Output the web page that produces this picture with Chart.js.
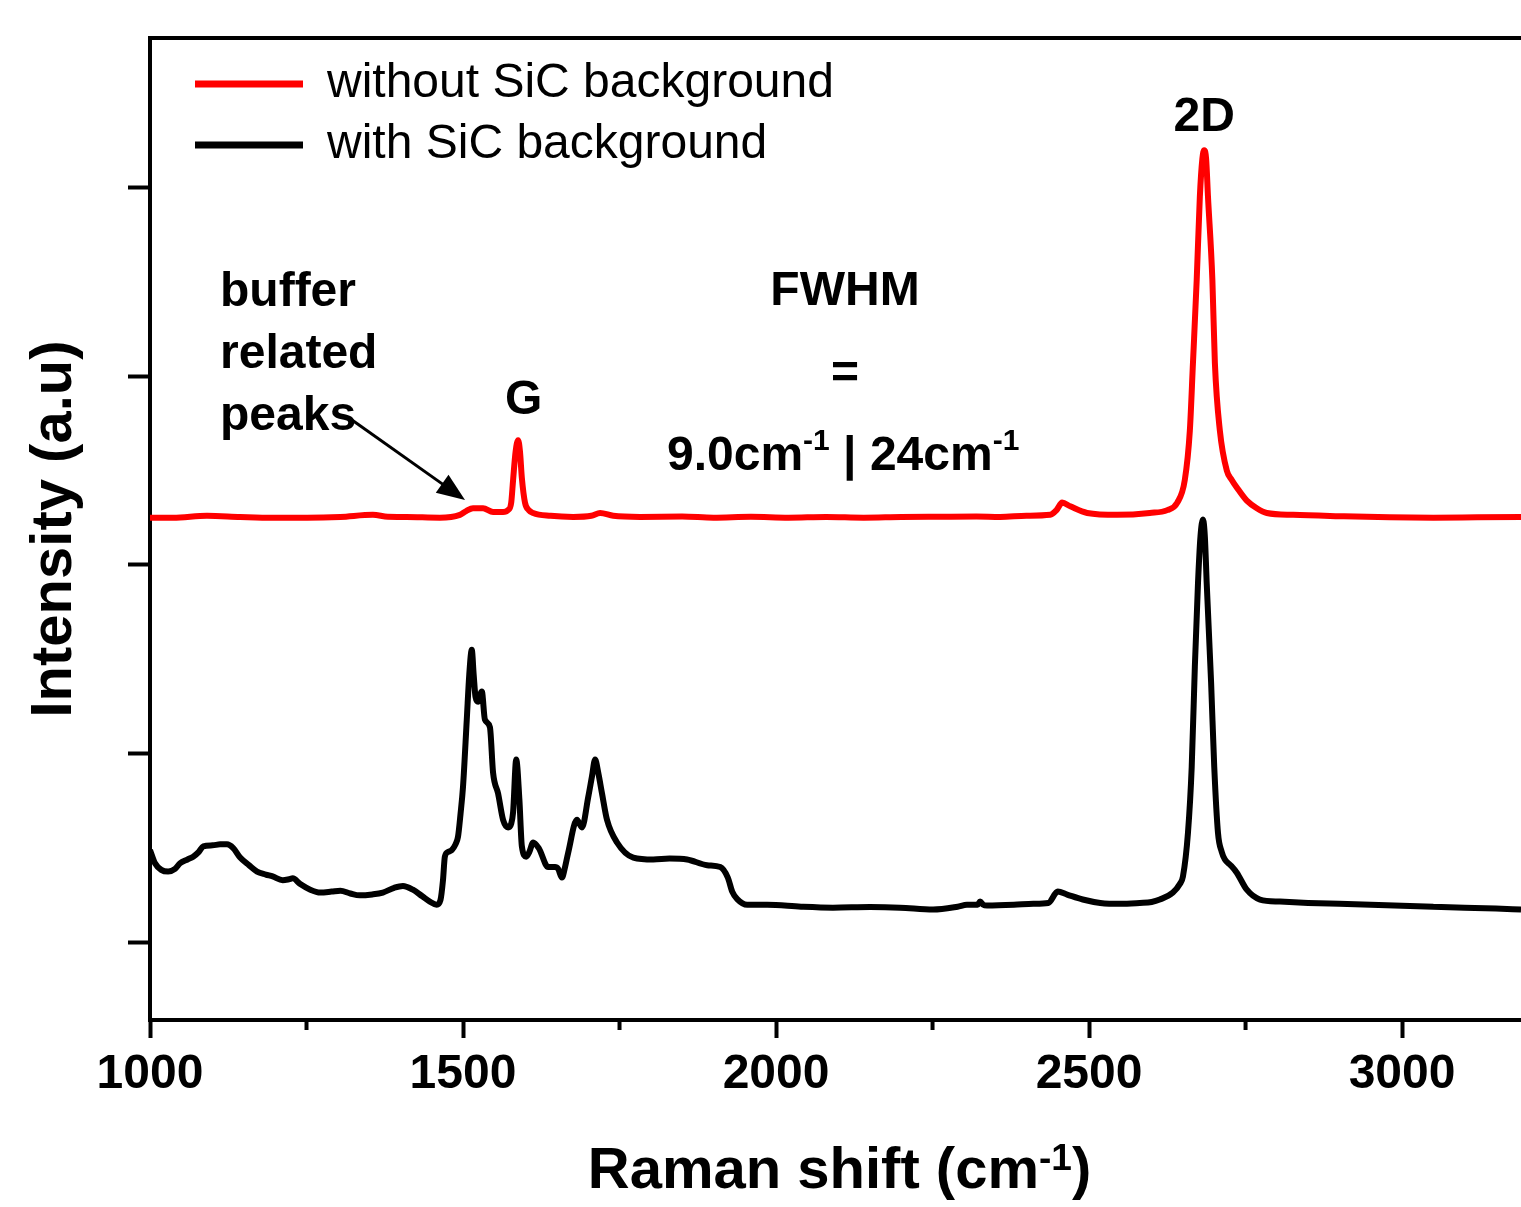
<!DOCTYPE html>
<html>
<head>
<meta charset="utf-8">
<title>Raman spectra</title>
<script src="https://cdn.jsdelivr.net/npm/chart.js@4.4.1/dist/chart.umd.min.js"></script>
<style>
  html, body { margin: 0; padding: 0; background: #fff; }
  canvas { display: block; }
</style>
</head>
<body>
<canvas id="ramanChart" width="1521" height="1207"></canvas>
<script>
// Raman shift (cm-1) / intensity
const redShift = [1000, 1037, 1091, 1144, 1196, 1251, 1304, 1356, 1380, 1410, 1463, 1495, 1505, 1516, 1532, 1548, 1564, 1572, 1577, 1580, 1584, 1588, 1591, 1594, 1599, 1605, 1612, 1640, 1676, 1705, 1719, 1740, 1783, 1850, 1900, 1960, 2020, 2080, 2140, 2200, 2260, 2320, 2358, 2400, 2438, 2448, 2457, 2470, 2497, 2545, 2597, 2625, 2641, 2653, 2661, 2666, 2672, 2677, 2681, 2684, 2687, 2690, 2697, 2701, 2709, 2720, 2728, 2736, 2752, 2768, 2784, 2826, 2900, 2980, 3050, 3120, 3190];
const redIntensity = [2.25, 2.25, 2.26, 2.254, 2.25, 2.25, 2.254, 2.265, 2.255, 2.254, 2.25, 2.265, 2.285, 2.30, 2.30, 2.28, 2.28, 2.29, 2.33, 2.45, 2.60, 2.66, 2.60, 2.46, 2.33, 2.29, 2.275, 2.26, 2.254, 2.26, 2.275, 2.26, 2.254, 2.256, 2.25, 2.255, 2.25, 2.254, 2.25, 2.254, 2.255, 2.256, 2.254, 2.26, 2.265, 2.29, 2.33, 2.31, 2.275, 2.265, 2.275, 2.29, 2.33, 2.45, 2.71, 3.07, 3.51, 3.95, 4.15, 4.196, 4.15, 3.95, 3.51, 3.07, 2.71, 2.50, 2.45, 2.41, 2.34, 2.30, 2.275, 2.265, 2.258, 2.252, 2.25, 2.252, 2.254];

const blackShift = [1000, 1008, 1018, 1029, 1040, 1048, 1060, 1069, 1078, 1085, 1100, 1112, 1123, 1133, 1144, 1158, 1171, 1185, 1196, 1212, 1222, 1228, 1240, 1256, 1272, 1290, 1304, 1320, 1335, 1355, 1372, 1390, 1404, 1420, 1435, 1447, 1458, 1464, 1468, 1471, 1476, 1482, 1488, 1492, 1496, 1500, 1506, 1510, 1514, 1517, 1520, 1524, 1530, 1535, 1543, 1548, 1556, 1564, 1572, 1577, 1580, 1585, 1590, 1594, 1601, 1606, 1612, 1621, 1636, 1647, 1652, 1658, 1663, 1668, 1682, 1690, 1700, 1706, 1711, 1716, 1722, 1730, 1746, 1772, 1804, 1830, 1858, 1890, 1911, 1923, 1930, 1938, 1954, 1986, 2040, 2091, 2150, 2198, 2251, 2290, 2305, 2322, 2326, 2331, 2337, 2380, 2411, 2435, 2450, 2465, 2490, 2518, 2550, 2581, 2600, 2613, 2634, 2645, 2650, 2658, 2664, 2669, 2674, 2678, 2682, 2685, 2688, 2695, 2700, 2706, 2712, 2717, 2726, 2736, 2752, 2773, 2805, 2850, 2900, 2950, 3000, 3050, 3100, 3150, 3190];
const blackIntensity = [0.49, 0.42, 0.385, 0.376, 0.39, 0.42, 0.44, 0.455, 0.48, 0.51, 0.515, 0.52, 0.52, 0.50, 0.45, 0.41, 0.376, 0.36, 0.35, 0.33, 0.335, 0.34, 0.31, 0.28, 0.265, 0.27, 0.275, 0.26, 0.25, 0.255, 0.265, 0.29, 0.30, 0.28, 0.245, 0.217, 0.20, 0.225, 0.33, 0.455, 0.48, 0.49, 0.52, 0.56, 0.68, 0.825, 1.18, 1.42, 1.55, 1.42, 1.30, 1.275, 1.33, 1.18, 1.14, 0.90, 0.79, 0.65, 0.61, 0.63, 0.69, 0.97, 0.76, 0.51, 0.455, 0.48, 0.53, 0.50, 0.40, 0.40, 0.39, 0.344, 0.40, 0.476, 0.65, 0.61, 0.77, 0.88, 0.97, 0.90, 0.79, 0.65, 0.53, 0.45, 0.44, 0.445, 0.44, 0.41, 0.40, 0.344, 0.27, 0.23, 0.20, 0.20, 0.19, 0.185, 0.188, 0.185, 0.175, 0.19, 0.20, 0.20, 0.217, 0.20, 0.196, 0.20, 0.206, 0.21, 0.27, 0.254, 0.228, 0.21, 0.205, 0.21, 0.215, 0.228, 0.265, 0.31, 0.35, 0.58, 0.93, 1.46, 1.90, 2.15, 2.24, 2.15, 1.90, 1.375, 0.93, 0.58, 0.48, 0.44, 0.41, 0.37, 0.28, 0.228, 0.217, 0.21, 0.205, 0.20, 0.195, 0.19, 0.185, 0.18, 0.175];

const seriesLabels = ['without SiC background', 'with SiC background'];
const xMajorTicks = [1000, 1500, 2000, 2500, 3000];
const xMinorTicks = [1250, 1750, 2250, 2750];
const yTicks = [0, 1, 2, 3, 4];

const FONT = "'Liberation Sans', Arial, sans-serif";
Chart.defaults.color = '#000';
Chart.defaults.font.family = FONT;

function toPoints(xs, ys) {
    return xs.map((x, i) => ({ x: x, y: ys[i] }));
}

// draw text pieces, some of them raised as superscript
function drawRich(ctx, parts, x, y, align) {
    let total = 0;
    parts.forEach(p => {
        ctx.font = 'bold ' + p.size + 'px ' + FONT;
        p.w = ctx.measureText(p.text).width;
        total += p.w;
    });
    let cx = align === 'center' ? x - total / 2 : x;
    ctx.textAlign = 'left';
    ctx.textBaseline = 'alphabetic';
    parts.forEach(p => {
        ctx.font = 'bold ' + p.size + 'px ' + FONT;
        ctx.fillText(p.text, cx, y - (p.rise || 0));
        cx += p.w;
    });
}

const extras = {
    id: 'extras',
    afterLayout(chart) {
        // move the in-plot legend to where the figure has it
        chart.legend.left = 182;
        chart.legend.top = 47;
    },
    afterDraw(chart) {
        const ctx = chart.ctx;
        const area = chart.chartArea;
        const xs = chart.scales.x;
        ctx.save();
        ctx.strokeStyle = '#000';
        ctx.fillStyle = '#000';

        // top frame line
        ctx.lineWidth = 4;
        ctx.beginPath();
        ctx.moveTo(area.left - 2, area.top);
        ctx.lineTo(area.right, area.top);
        ctx.stroke();

        // minor ticks on x
        ctx.lineWidth = 4;
        xMinorTicks.forEach(v => {
            const px = xs.getPixelForValue(v);
            ctx.beginPath();
            ctx.moveTo(px, area.bottom);
            ctx.lineTo(px, area.bottom + 10);
            ctx.stroke();
        });

        // annotations
        ctx.font = 'bold 48px ' + FONT;
        ctx.textAlign = 'left';
        ctx.textBaseline = 'alphabetic';
        ctx.fillText('buffer', 220, 306);
        ctx.fillText('related', 220, 368);
        ctx.fillText('peaks', 220, 430);
        ctx.textAlign = 'center';
        ctx.fillText('G', xs.getPixelForValue(1597), 414);
        ctx.fillText('2D', xs.getPixelForValue(2684), 131);
        ctx.fillText('FWHM', 845, 305);
        ctx.fillText('=', 845, 388);
        drawRich(ctx, [
            { text: '9.0cm', size: 48 },
            { text: '-1', size: 30, rise: 20 },
            { text: ' | 24cm', size: 48 },
            { text: '-1', size: 30, rise: 20 }
        ], 667, 470, 'left');

        // arrow to buffer peaks
        const x0 = 352, y0 = 420, x1 = 465, y1 = 500;
        const ang = Math.atan2(y1 - y0, x1 - x0);
        ctx.lineWidth = 3;
        ctx.beginPath();
        ctx.moveTo(x0, y0);
        ctx.lineTo(x1 - 24 * Math.cos(ang), y1 - 24 * Math.sin(ang));
        ctx.stroke();
        ctx.beginPath();
        ctx.moveTo(x1, y1);
        ctx.lineTo(x1 - 28 * Math.cos(ang) + 11 * Math.sin(ang), y1 - 28 * Math.sin(ang) - 11 * Math.cos(ang));
        ctx.lineTo(x1 - 28 * Math.cos(ang) - 11 * Math.sin(ang), y1 - 28 * Math.sin(ang) + 11 * Math.cos(ang));
        ctx.closePath();
        ctx.fill();

        // x axis title with superscript
        drawRich(ctx, [
            { text: 'Raman shift (cm', size: 58 },
            { text: '-1', size: 37, rise: 18 },
            { text: ')', size: 58 }
        ], (area.left + area.right) / 2 + 4, 1188, 'center');
        ctx.restore();
    }
};

const ctx = document.getElementById('ramanChart').getContext('2d');
new Chart(ctx, {
    type: 'line',
    data: {
        datasets: [{
            label: seriesLabels[0],
            data: toPoints(redShift, redIntensity),
            borderColor: '#ff0000',
            backgroundColor: '#ff0000',
            borderWidth: 6,
            pointRadius: 0,
            cubicInterpolationMode: 'monotone',
            fill: false
        }, {
            label: seriesLabels[1],
            data: toPoints(blackShift, blackIntensity),
            borderColor: '#000000',
            backgroundColor: '#000000',
            borderWidth: 6,
            pointRadius: 0,
            cubicInterpolationMode: 'monotone',
            fill: false
        }]
    },
    options: {
        responsive: false,
        animation: false,
        layout: { padding: { top: 38, right: 0, bottom: 0, left: 0 } },
        plugins: {
            legend: {
                position: 'chartArea',
                align: 'start',
                labels: {
                    boxWidth: 108,
                    boxHeight: 7,
                    padding: 13,
                    color: '#000',
                    font: { size: 48, family: FONT },
                    generateLabels(chart) {
                        return chart.data.datasets.map((ds, i) => ({
                            text: ds.label,
                            fillStyle: ds.borderColor,
                            strokeStyle: ds.borderColor,
                            lineWidth: 0,
                            fontColor: '#000',
                            hidden: false,
                            datasetIndex: i
                        }));
                    }
                }
            },
            tooltip: { enabled: false }
        },
        scales: {
            x: {
                type: 'linear',
                min: 1000,
                max: 3190,
                afterFit(scale) { scale.height = 187; },
                afterBuildTicks(scale) { scale.ticks = xMajorTicks.map(v => ({ value: v })); },
                border: { display: true, color: '#000', width: 4 },
                grid: { drawOnChartArea: false, drawTicks: true, tickLength: 18, tickWidth: 4, tickColor: '#000' },
                ticks: {
                    padding: 8,
                    color: '#000',
                    font: { size: 48, weight: 'bold', family: FONT },
                    maxRotation: 0,
                    callback: v => String(v)
                }
            },
            y: {
                type: 'linear',
                min: -0.41,
                max: 4.79,
                afterFit(scale) { scale.width = 150; },
                afterBuildTicks(scale) { scale.ticks = yTicks.map(v => ({ value: v })); },
                border: { display: true, color: '#000', width: 4 },
                grid: { drawOnChartArea: false, drawTicks: true, tickLength: 22, tickWidth: 4, tickColor: '#000' },
                ticks: { display: false },
                title: {
                    display: true,
                    text: 'Intensity (a.u)',
                    color: '#000',
                    font: { size: 58, weight: 'bold', family: FONT },
                    padding: { top: 20, bottom: 0 }
                }
            }
        }
    },
    plugins: [extras]
});
</script>
</body>
</html>
